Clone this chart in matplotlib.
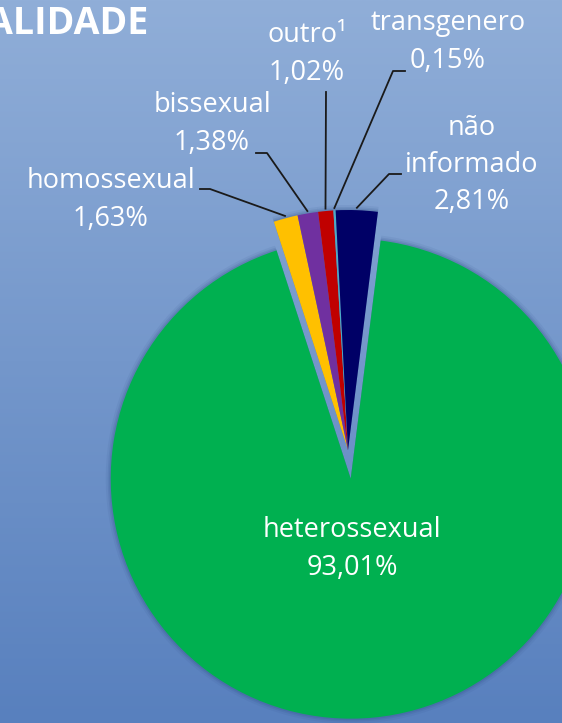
import numpy as np
import matplotlib.pyplot as plt

# data
labels = ["homossexual", "bissexual", "outro\u00b9", "transgenero", "não\ninformado", "heterossexual"]
values = [1.63, 1.38, 1.02, 0.15, 2.81, 93.01]
colors = ["#FFC000", "#7030A0", "#C00000", "#4BACC6", "#000066", "#00B050"]
explode_frac = [0, 0, 0, 0, 0, 0.12]

W, H = 562, 723
fig = plt.figure(figsize=(W / 100, H / 100), dpi=100)
ax = fig.add_axes([0, 0, 1, 1])

# gradient background
grad = np.linspace(0, 1, 256)[:, None]
top = np.array([0x90, 0xAE, 0xD8]) / 255
bot = np.array([0x58, 0x80, 0xBE]) / 255
img = top + (bot - top) * grad[..., None]
ax.imshow(img, extent=(0, W, 0, H), aspect='auto', origin='upper', zorder=0)

cx, cy, R = 348, H - 450, 240
start = 108
explode = [e * R for e in explode_frac]  # pie explode is in data units

# soft shadow
for k, a in [(5, 0.08), (3, 0.12), (1.5, 0.16)]:
    sw, _ = ax.pie(values, explode=explode, startangle=start, counterclock=False,
                   center=(cx, cy), radius=R + k, colors=["#2a4a80"] * len(values))
    for w in sw:
        w.set_alpha(a)
        w.set_zorder(1)

wedges, _ = ax.pie(values, explode=explode, startangle=start, counterclock=False,
                   center=(cx, cy), radius=R, colors=colors)
for w in wedges:
    w.set_zorder(2)

ax.set_xlim(0, W)
ax.set_ylim(0, H)
ax.axis('off')

font = dict(family="Open Sans", size=19.5, color="white", ha="center", va="center",
            linespacing=1.45)

def y(v):
    return H - v

# labels (text in pixel layout) and leader lines to wedge mid angles
lab_pos = [(111, 200), (212, 124), (307, 54), (448, 42), (472, 165)]
elbows = [[(200, 189), (210, 189)], [(256, 153), (267, 153)], [(326, 92), (326, 92)],
          [(405, 71), (393, 71)], [(401, 174), (389, 174)]]
pct = [f"{v:.2f}%".replace(".", ",") for v in values]
for i in range(5):
    w = wedges[i]
    th = np.deg2rad((w.theta1 + w.theta2) / 2)
    px = w.center[0] + R * 1.01 * np.cos(th)
    py = w.center[1] + R * 1.01 * np.sin(th)
    (x0, y0), (x1, y1) = elbows[i]
    ax.plot([x0, x1, px], [y(y0), y(y1), py], color="#1a1a1a", lw=1.3, zorder=3)
    tx, ty = lab_pos[i]
    ax.text(tx, y(ty), labels[i] + "\n" + pct[i], **font)

ax.text(352, y(549), labels[5] + "\n" + pct[5], **font)

ax.text(148, y(24), "ALIDADE", family="Open Sans", weight="bold", size=27,
        color="white", ha="right", va="center")

fig.savefig("out.png", dpi=100)
